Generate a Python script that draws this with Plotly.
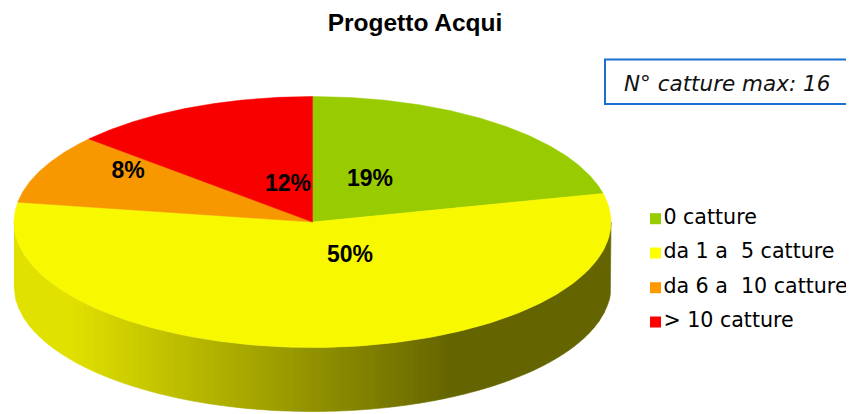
import numpy as np
import plotly.graph_objects as go

categories = ["0 catture", "da 1 a\u00a0 5 catture", "da 6 a\u00a0 10 catture", "> 10 catture"]
values = [19, 50, 8, 12]
percent_labels = ["19%", "50%", "8%", "12%"]
slice_colors = ["#99CC00", "#F8F800", "#F89800", "#F80000"]
legend_colors = ["#99CC00", "#FFFF00", "#FF9900", "#FF0000"]
title_text = "Progetto Acqui"
note_text = "N° catture max: 16"

# geometry of the tilted disc, in the pixel-scaled axes
PAGE_MARGIN = 8  # the page's own body margin
CX, CY, RX, RY, DEPTH = 312.5, 222.0, 298.5, 125.5, 64.0
LABEL_POS = [(370, 180), (350, 256), (128, 172.5), (288, 185.5)]
LEGEND_X, LEGEND_Y = 655.5, [218.7, 253, 287.7, 322]

fig = go.Figure()

# rim: vertical bands shaded from left to right
edges = np.arange(CX - RX, CX + RX + 5, 5.0)
edges[-1] = CX + RX
for a, b in zip(edges[:-1], edges[1:]):
    xs = np.linspace(a, b, 4)
    top = CY + RY * np.sqrt(np.clip(1 - ((xs - CX) / RX) ** 2, 0, 1))
    mid = (a + b) / 2
    level = int(np.clip(225 - (mid - 70) * (125 / 385), 100, 225))
    color = f"rgb({level},{level},0)"
    fig.add_trace(go.Scatter(
        x=np.r_[xs, xs[::-1]], y=np.r_[top, (top + DEPTH)[::-1]],
        mode="lines", fill="toself", fillcolor=color,
        line=dict(color=color, width=0.6), hoverinfo="skip", showlegend=False))

# top face: one elliptical wedge per value
total = sum(values)
angle = 0.0
for name, value, color in zip(categories, values, slice_colors):
    sweep = 2 * np.pi * value / total
    t = np.linspace(angle, angle + sweep, 240)
    angle += sweep
    fig.add_trace(go.Scatter(
        x=np.r_[CX, CX + RX * np.sin(t), CX],
        y=np.r_[CY, CY - RY * np.cos(t), CY],
        mode="lines", fill="toself", fillcolor=color,
        line=dict(color=color, width=0.5), name=name,
        hoverinfo="name", showlegend=False))

# percent labels
fig.add_trace(go.Scatter(
    x=[p[0] for p in LABEL_POS], y=[p[1] for p in LABEL_POS],
    mode="text", text=percent_labels, textposition="middle center",
    textfont=dict(family="Liberation Sans", size=23, color="black", weight="bold"),
    hoverinfo="skip", showlegend=False))

# legend entries
for name, color, y in zip(categories, legend_colors, LEGEND_Y):
    fig.add_trace(go.Scatter(
        x=[LEGEND_X], y=[y], mode="markers+text", text=[name],
        textposition="middle right", cliponaxis=False,
        marker=dict(symbol="square", size=11, color=color, line=dict(width=0)),
        textfont=dict(family="DejaVu Sans", size=20.6, color="black"),
        hoverinfo="skip", showlegend=False))

W, H = 854 - PAGE_MARGIN, 414 - PAGE_MARGIN
fig.update_layout(
    width=W, height=H, autosize=False,
    margin=dict(l=0, r=0, t=0, b=0),
    paper_bgcolor="white", plot_bgcolor="white",
    xaxis=dict(range=[PAGE_MARGIN, 854], visible=False, fixedrange=True),
    yaxis=dict(range=[414, PAGE_MARGIN], visible=False, fixedrange=True),
    title=dict(text=title_text, x=(415 - PAGE_MARGIN) / W, xanchor="center",
               y=1 - (22 - PAGE_MARGIN) / H, yanchor="middle",
               font=dict(family="Liberation Sans", size=24.5, color="black", weight="bold")),
    shapes=[dict(type="rect", xref="x", yref="y", x0=605, x1=880, y0=59.5, y1=104,
                 line=dict(color="#1A6FD0", width=2), fillcolor="white", layer="below")],
    annotations=[dict(text=note_text, xref="x", yref="y", x=622, y=83, xanchor="left", yanchor="middle",
                      showarrow=False,
                      font=dict(family="DejaVu Sans", size=21.5, color="#111111", style="italic"))],
)

fig.write_html("out.html")
